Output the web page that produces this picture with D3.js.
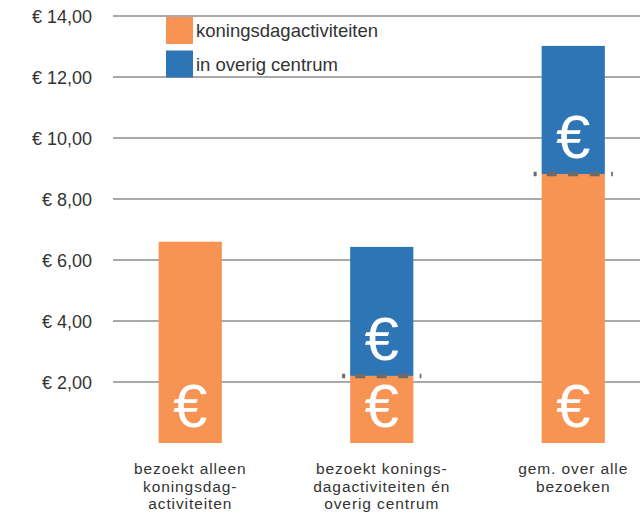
<!DOCTYPE html>
<html><head><meta charset="utf-8">
<script src="https://cdn.jsdelivr.net/npm/d3@7"></script>
<style>body{margin:0;background:#fff}svg{display:block}text{font-family:"Liberation Sans",Arial,sans-serif}</style>
</head><body>
<svg id="c" width="640" height="515"></svg>
<script>
const categories = ["bezoekt alleen|koningsdag-|activiteiten", "bezoekt konings-|dagactiviteiten én|overig centrum", "gem. over alle|bezoeken"];
const koningsdag = [6.60, 2.20, 8.82];
const overig = [0, 4.23, 4.20];
const seriesNames = ["koningsdagactiviteiten", "in overig centrum"];
const yTicks = [2, 4, 6, 8, 10, 12, 14];
const colors = ["#F79454", "#2E75B6"];

const svg = d3.select("#c");
const y = d3.scaleLinear().domain([0, 14]).range([443, 16]);
const x = d3.scaleBand().domain(categories).range([94.5, 669]).paddingInner(0.67).paddingOuter(0.335);

const fmt = v => "€ " + v.toFixed(2).replace(".", ",");
// gridlines
svg.append("g").selectAll("line").data(yTicks).join("line")
  .attr("x1", 113).attr("x2", 640)
  .attr("y1", d => y(d)).attr("y2", d => y(d))
  .attr("stroke", "#8c8c8c").attr("stroke-width", 1.3);
svg.append("g").selectAll("text").data(yTicks).join("text")
  .attr("x", 92).attr("y", d => y(d) + 6.5).attr("text-anchor", "end")
  .attr("font-size", 18).attr("fill", "#333").text(fmt);

const stacked = categories.map((c, i) => ({c, a: koningsdag[i], b: overig[i]}));
const g = svg.append("g");
g.selectAll("rect.a").data(stacked).join("rect")
  .attr("x", d => x(d.c)).attr("width", x.bandwidth())
  .attr("y", d => y(d.a)).attr("height", d => y(0) - y(d.a)).attr("fill", colors[0]);
g.selectAll("rect.b").data(stacked.filter(d => d.b > 0)).join("rect")
  .attr("x", d => x(d.c)).attr("width", x.bandwidth())
  .attr("y", d => y(d.a + d.b)).attr("height", d => y(d.a) - y(d.a + d.b)).attr("fill", colors[1]);

// dashed lines at top of orange segment for stacked bars
g.selectAll("line.d").data(stacked.filter(d => d.b > 0)).join("line")
  .attr("x1", d => x(d.c) - 8).attr("x2", d => x(d.c) + x.bandwidth() + 8)
  .attr("y1", d => y(d.a)).attr("y2", d => y(d.a))
  .attr("stroke", "#6b6b6b").attr("stroke-width", 4.5)
  .attr("stroke-dasharray", "3,10,10,11.5,10,11.5,10,11.5,10,10,3");

// euro symbols
const euros = [];
stacked.forEach(d => {
  euros.push({c: d.c, base: 0});
  if (d.b > 0) euros.push({c: d.c, base: d.a});
});
g.selectAll("text.e").data(euros).join("text")
  .attr("x", d => x(d.c) + x.bandwidth() / 2).attr("y", d => y(d.base) - 16)
  .attr("text-anchor", "middle").attr("fill", "#fff")
  .attr("font-size", 62)
  .text("€");

// x labels (one text per line)
const lines = [];
categories.forEach(c => c.split("|").forEach((t, i) => lines.push({c, t, i})));
svg.append("g").selectAll("text").data(lines).join("text")
  .attr("x", d => x(d.c) + x.bandwidth() / 2).attr("y", d => 474 + d.i * 17.5)
  .attr("text-anchor", "middle").attr("font-size", 15.5).attr("letter-spacing", 0.9)
  .attr("fill", "#333").text(d => d.t);

// legend
const lg = svg.append("g").selectAll("g").data(seriesNames).join("g")
  .attr("transform", (d, i) => `translate(166,${17 + i * 33.5})`);
lg.append("rect").attr("width", 27).attr("height", 27).attr("fill", (d, i) => colors[i]);
lg.append("text").attr("x", 30).attr("y", 20).attr("font-size", 18.5).attr("fill", "#333").text(d => d);
</script>
</body></html>
